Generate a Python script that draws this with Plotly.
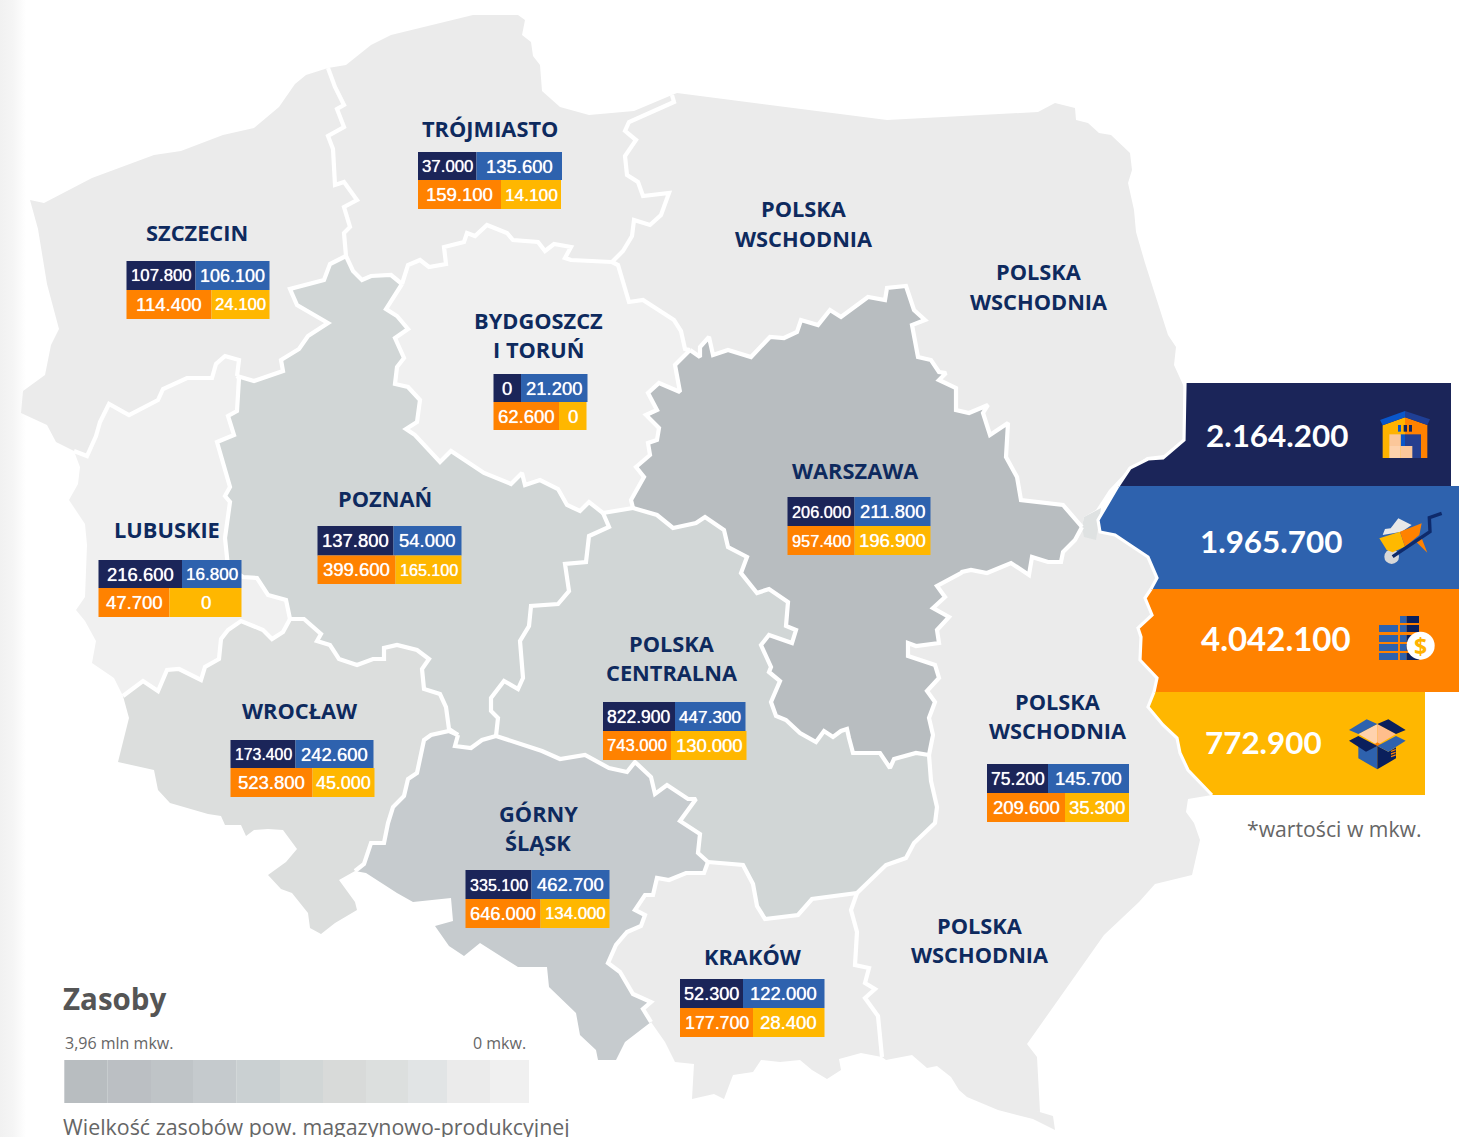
import plotly.graph_objects as go

# ---------- DATA ----------
REGIONS = ["TRÓJMIASTO", "SZCZECIN", "BYDGOSZCZ I TORUŃ", "POZNAŃ", "LUBUSKIE", "WROCŁAW",
           "GÓRNY ŚLĄSK", "WARSZAWA", "POLSKA CENTRALNA", "POLSKA WSCHODNIA", "KRAKÓW"]
VAL_NAVY = ["37.000", "107.800", "0", "137.800", "216.600", "173.400", "335.100", "206.000", "822.900", "75.200", "52.300"]
VAL_BLUE = ["135.600", "106.100", "21.200", "54.000", "16.800", "242.600", "462.700", "211.800", "447.300", "145.700", "122.000"]
VAL_ORANGE = ["159.100", "114.400", "62.600", "399.600", "47.700", "523.800", "646.000", "957.400", "743.000", "209.600", "177.700"]
VAL_YELLOW = ["14.100", "24.100", "0", "165.100", "0", "45.000", "134.000", "196.900", "130.000", "35.300", "28.400"]

TOTALS = ["2.164.200", "1.965.700", "4.042.100", "772.900"]
TOTAL_SIZES = [31.4, 31.4, 33, 31.4]
LEGEND_STEPS = ["#b8bdc0", "#bbbfc3", "#bfc4c7", "#c5cacd", "#cad0d2", "#d1d6d6",
                "#d8dad9", "#dcdfde", "#e1e4e5", "#ebebeb", "#f0f0f0"]

# ---------- LAYOUT OF THE TABLES: x0, top split, top end, bottom split, bottom end, y0, ymid, y1 ----------
TABLE_BOX = [
    (418, 476.5, 562, 501, 561, 152, 180, 209),
    (126.5, 195.5, 269.5, 211.5, 269.5, 261, 290, 319),
    (493.5, 521, 587.5, 559, 586.5, 374, 402, 430),
    (317.5, 393.5, 461.5, 395.5, 461.5, 526, 555.5, 584),
    (98.5, 182, 241.5, 169.5, 241.5, 560, 588, 617),
    (230.5, 295.5, 373.5, 312.5, 374.5, 740, 768, 797),
    (465.5, 531.5, 609.5, 540.5, 609.5, 870, 899, 928),
    (787.5, 854.5, 930.5, 854.5, 930.5, 497, 526, 555),
    (603, 675, 745.5, 671, 746.5, 702, 731, 760),
    (987, 1048, 1129, 1065, 1129, 764, 793, 822),
    (680, 743, 824.5, 753, 824.5, 979, 1008, 1037),
]
LABEL_LINES = [
    ("TRÓJMIASTO", 490, 128), ("SZCZECIN", 197, 232), ("POLSKA", 804, 208), ("WSCHODNIA", 804, 238),
    ("POLSKA", 1039, 271), ("WSCHODNIA", 1039, 301), ("BYDGOSZCZ", 538, 320), ("I TORUŃ", 538, 349),
    ("POZNAŃ", 385, 498), ("LUBUSKIE", 167, 529), ("WARSZAWA", 855, 470), ("POLSKA", 672, 643),
    ("CENTRALNA", 672, 672), ("WROCŁAW", 300, 710), ("GÓRNY", 538, 813), ("ŚLĄSK", 538, 842),
    ("KRAKÓW", 753, 956), ("POLSKA", 1058, 701), ("WSCHODNIA", 1058, 730), ("POLSKA", 980, 925),
    ("WSCHODNIA", 980, 954),
]

# ---------- MAP OUTLINES (shared borders) ----------
COAST_SZ = [(74,451),(56,442),(47,425),(21,413),(23,391),(45,375),(51,345),(59,329),(47,284),(38,229),(30,200),
            (44,203),(92,178),(154,155),(181,151),(223,135),(254,128),(279,107),(295,84),(306,75),(328,68)]
S_TR = [(328,68),(335,87),(344,105),(337,109),(344,127),(328,136),(333,149),(335,185),(344,182),(357,200),
        (344,207),(350,227),(344,233),(346,256)]
SP = [(346,256),(330,264),(324,280),(290,289),(297,305),(328,323),(308,336),(299,349),(281,360),(283,371),
      (254,381),(237,376)]
SL = [(237,376),(239,360),(225,356),(216,364),(212,378),(187,378),(163,389),(158,400),(129,415),(109,404),
      (100,422),(96,436),(87,456),(74,451)]
COAST_TR = [(328,68),(346,65),(371,45),(391,35),(473,15),(518,15),(525,20),(522,35),(531,42),(533,56),(540,65),
            (542,91),(560,107),(589,115),(634,111),(672,95)]
TR_PW = [(672,95),(674,102),(629,122),(625,131),(636,140),(625,156),(627,175),(638,182),(643,196),(669,193),
         (661,215),(650,225),(634,220),(632,236),(623,251),(612,262)]
TR_BY = [(612,262),(571,260),(565,258),(571,247),(554,244),(545,251),(538,242),(513,240),(507,233),(487,225),
         (475,236),(467,233),(464,242),(444,247),(446,264),(429,267),(420,260),(408,265),(402,284)]
TP = [(346,256),(353,271),(362,280),(371,276),(391,275),(402,284)]
BP = [(402,284),(386,309),(397,316),(408,329),(395,338),(404,358),(397,367),(395,384),(408,387),(420,400),
      (417,422),(406,429),(415,435),(440,462),(451,451),(484,473),(511,484),(522,473),(525,485),(540,480),
      (558,489),(567,505),(580,511),(589,502),(603,513)]
BY_PW = [(612,262),(618,265),(629,302),(643,300),(674,320),(681,331),(685,349),(690,350)]
BY_WA = [(690,350),(675,365),(680,392),(659,383),(648,393),(657,410),(646,415),(659,428),(657,440),(648,443),
         (650,455),(636,467),(644,477),(631,500),(633,508)]
BY_PC = [(633,508),(603,513)]
WA_PW1 = [(690,350),(700,357),(700,347),(709,337),(713,355),(728,350),(751,357),(770,337),(784,338),(797,332),
          (801,320),(818,325),(830,310),(841,317),(868,297),(885,300),(887,288),(906,286),(914,310),(925,320),
          (912,325),(918,357),(931,360),(939,372),(946,373),(939,380),(956,388),(956,410),(969,413),(988,405),
          (983,413),(990,435),(1008,423),(1006,457),(1017,477),(1021,500),(1063,505),(1082,527)]
OUT_PW1 = [(672,95),(677,93),(887,120),(1038,112),(1055,103),(1075,108),(1076,120),(1088,123),(1099,133),(1111,135),
           (1130,153),(1132,170),(1128,183),(1134,210),(1136,232),(1145,263),(1168,335),(1176,347),(1174,365),
           (1184,387),(1186,437),(1164,455),(1147,457),(1128,470),(1109,490),(1096,510),(1084,517),(1082,527)]
WA_PW2 = [(1082,527),(1075,540),(1063,552),(1061,562),(1048,562),(1032,557),(1029,575),(1011,563),(987,573),
          (971,570),(962,572),(961,573),(937,586),(945,597),(933,608),(949,617),(937,630),(939,643),(916,646),
          (908,643),(908,656),(935,665),(939,678),(927,691),(935,702),(929,718),(933,735),(929,755)]
WA_PC = [(929,755),(916,753),(894,759),(890,768),(880,753),(853,753),(849,738),(847,729),(841,731),(833,737),
         (824,731),(816,742),(800,733),(786,720),(776,716),(771,702),(780,681),(769,672),(771,667),(761,645),
         (769,635),(792,643),(796,630),(786,626),(788,602),(769,589),(757,593),(741,573),(747,557),(728,547),
         (724,530),(705,517),(696,523),(673,528),(657,515),(633,508)]
PO_PC = [(603,513),(609,527),(589,536),(586,562),(565,564),(569,591),(558,604),(531,606),(529,626),(520,641),
         (523,678),(518,689),(504,681),(491,698),(491,711),(498,718),(496,736)]
PO_GS = [(496,736),(482,740),(471,748),(455,746),(458,735)]
PO_WR = [(458,735),(449,729),(446,707),(440,694),(424,689),(422,669),(429,659),(417,650),(397,645),(384,648),
         (384,659),(373,659),(357,665),(339,659),(330,645),(317,641),(321,634),(304,619),(290,619)]
PO_LU = [(290,619),(286,600),(268,595),(257,578),(243,577),(228,567),(225,538),(230,502),(225,496),(230,487),
         (217,442),(234,435),(228,416),(237,411),(239,378),(237,376)]
WR_LU = [(290,619),(283,632),(272,639),(263,630),(241,621),(228,630),(221,639),(219,659),(205,667),(201,680),
         (179,669),(167,670),(158,691),(143,681),(123,696)]
OUT_LU = [(74,451),(80,467),(78,484),(69,500),(85,524),(87,545),(85,597),(76,610),(85,621),(96,641),(92,663),
          (114,678),(123,696)]
OUT_WR = [(123,696),(129,718),(118,762),(154,770),(158,790),(170,803),(208,814),(221,816),(225,825),(241,825),
          (246,836),(254,830),(268,829),(283,830),(297,849),(286,862),(268,875),(281,889),(292,893),(308,913),
          (310,928),(321,934),(335,923),(357,910),(355,902),(339,880),(355,871)]
WR_GS = [(458,735),(449,731),(431,735),(424,740),(417,773),(408,779),(404,796),(393,807),(388,823),(384,843),
         (371,843),(364,864),(355,871)]
OUT_GS = [(355,871),(366,873),(397,893),(413,902),(451,898),(453,921),(435,926),(449,946),(464,956),(480,943),
          (491,950),(502,957),(518,967),(547,967),(549,987),(576,1013),(580,1035),(596,1050),(598,1060),(616,1060),
          (625,1042),(651,1022)]
GS_PC = [(496,736),(542,751),(560,759),(585,755),(609,768),(627,772),(635,762),(651,777),(655,794),(667,785),
         (688,799),(696,799),(680,821),(700,834),(698,853),(708,862)]
KR_GS = [(651,1022),(643,1009),(651,1002),(633,994),(620,972),(608,963),(616,945),(627,932),(641,926),(645,915),
         (635,910),(645,895),(653,895),(657,878),(669,880),(686,873),(704,873),(708,862)]
KR_PC = [(708,862),(743,865),(753,884),(757,906),(765,919),(798,915),(812,899),(841,895),(857,893)]
PC_PW = [(929,755),(931,781),(937,807),(935,823),(914,843),(906,858),(886,865),(857,893)]
KR_PW = [(857,893),(851,910),(857,932),(855,965),(869,968),(865,983),(875,989),(865,998),(878,1016),(882,1057)]
OUT_KR = [(882,1057),(861,1053),(839,1059),(841,1070),(827,1079),(812,1070),(800,1060),(780,1062),(761,1060),
          (753,1072),(733,1075),(724,1099),(714,1094),(692,1099),(694,1064),(675,1062),(665,1042),(651,1022)]
OUT_PW2 = [(882,1057),(886,1060),(912,1055),(927,1068),(937,1066),(951,1077),(959,1090),(967,1097),(998,1110),
           (1033,1119),(1055,1130),(1053,1116),(1033,1110),(1040,1112),(1037,1057),(1027,1044),(1104,935),(1139,902),
           (1155,884),(1192,875),(1200,840),(1194,823),(1186,812),(1188,799),(1212,795)]

EDGE_NAVY = [(1185,383),(1184,440),(1163,458),(1148,459),(1130,468),(1118,486)]
EDGE_BLUE = [(1118,486),(1098,520),(1100,532),(1115,535),(1133,547),(1148,557),(1157,578),(1151,589)]
EDGE_ORANGE = [(1151,589),(1145,598),(1152,615),(1138,628),(1141,637),(1140,660),(1157,678),(1154,692)]
EDGE_YELLOW = [(1154,692),(1148,707),(1163,725),(1177,738),(1180,753),(1188,770),(1212,795)]
TIP = [(1082,527),(1084,517),(1101,508),(1096,540),(1084,537)]


def rev(a):
    return a[::-1]


POLYS = {
    "szczecin": (COAST_SZ + S_TR + SP + SL, "#ebebeb"),
    "trojmiasto": (COAST_TR + TR_PW + TR_BY + rev(TP) + rev(S_TR), "#ebebeb"),
    "bydgoszcz": (rev(TR_BY) + BY_PW + BY_WA + BY_PC + rev(BP), "#f0f0f0"),
    "wschod1": (OUT_PW1 + rev(WA_PW1) + rev(BY_PW) + rev(TR_PW), "#ebebeb"),
    "warszawa": (WA_PW1 + WA_PW2 + WA_PC + rev(BY_WA), "#b8bdc0"),
    "centralna": (rev(WA_PC) + PC_PW + rev(KR_PC) + rev(GS_PC) + rev(PO_PC) + rev(BY_PC), "#d1d6d6"),
    "poznan": (TP + BP + PO_PC + PO_GS + PO_WR + PO_LU + rev(SP), "#d1d6d6"),
    "lubuskie": (PO_LU + SL + OUT_LU + rev(WR_LU), "#f0f0f0"),
    "wroclaw": (WR_GS + rev(OUT_WR) + rev(WR_LU) + rev(PO_WR), "#dcdedd"),
    "slask": (GS_PC + rev(KR_GS) + rev(OUT_GS) + rev(WR_GS) + rev(PO_GS), "#c6cbce"),
    "krakow": (KR_GS + KR_PC + KR_PW + OUT_KR, "#ebebeb"),
    "wschod2": (WA_PW2 + PC_PW + KR_PW + OUT_PW2 + rev(EDGE_YELLOW) + rev(EDGE_ORANGE) + rev(EDGE_BLUE[1:]), "#ebebeb"),
}
INNER = [S_TR, SP, SL, TR_BY, TP, BP, TR_PW, BY_PW, BY_WA, BY_PC, WA_PW1, WA_PW2, WA_PC, PO_PC, PO_GS, PO_WR,
         PO_LU, WR_LU, WR_GS, GS_PC, KR_GS, KR_PC, PC_PW, KR_PW]
BANDS = [
    (EDGE_NAVY, 1451, "#1b2559"),
    (EDGE_BLUE, 1459, "#2e62ae"),
    (EDGE_ORANGE, 1459, "#ff8200"),
    (EDGE_YELLOW, 1425, "#ffb700"),
]

fig = go.Figure()


def xs(p):
    return [q[0] for q in p]


def ys(p):
    return [q[1] for q in p]


# soft strip on the left of the page
fig.add_trace(go.Scatter(x=[0, 26, 26, 0, 0], y=[0, 0, 1137, 1137, 0], fill="toself", mode="none",
                         fillgradient=dict(type="horizontal", colorscale=[[0, "#f1f1f1"], [0.5, "#f5f5f5"], [1, "#ffffff"]]),
                         hoverinfo="skip", showlegend=False))

for name, (pts, col) in POLYS.items():
    fig.add_trace(go.Scatter(x=xs(pts) + [pts[0][0]], y=ys(pts) + [pts[0][1]], fill="toself", fillcolor=col,
                             mode="none", hoverinfo="skip", showlegend=False, name=name))
fig.add_trace(go.Scatter(x=xs(TIP) + [TIP[0][0]], y=ys(TIP) + [TIP[0][1]], fill="toself", fillcolor="#dfe2e2",
                         mode="none", hoverinfo="skip", showlegend=False))
for seg in INNER:
    fig.add_trace(go.Scatter(x=xs(seg), y=ys(seg), mode="lines", line=dict(color="#ffffff", width=4.2),
                             hoverinfo="skip", showlegend=False))

for edge, xr, col in BANDS:
    poly_pts = edge + [(xr, edge[-1][1]), (xr, edge[0][1])]
    fig.add_trace(go.Scatter(x=xs(poly_pts) + [poly_pts[0][0]], y=ys(poly_pts) + [poly_pts[0][1]], fill="toself",
                             fillcolor=col, mode="none", hoverinfo="skip", showlegend=False))
for seg in (EDGE_NAVY, EDGE_BLUE, EDGE_ORANGE, EDGE_YELLOW):
    fig.add_trace(go.Scatter(x=xs(seg), y=ys(seg), mode="lines", line=dict(color="#ffffff", width=3.2),
                             hoverinfo="skip", showlegend=False))

shapes = []
annots = []


def rect(x0, y0, x1, y1, col):
    shapes.append(dict(type="rect", xref="x", yref="y", x0=x0, y0=y0, x1=x1, y1=y1, fillcolor=col,
                       line=dict(width=0), layer="above"))


def poly(pts, col, ox=0, oy=0):
    d = "M" + " L".join(f"{ox + a / 3:.2f},{oy + b / 3:.2f}" for a, b in pts) + " Z"
    shapes.append(dict(type="path", path=d, xref="x", yref="y", fillcolor=col, line=dict(width=0), layer="above"))


def text(s, x, y, size, col, fam="Open Sans", bold=False, xa="center", shadow=None):
    font = dict(family=fam, size=size, color=col)
    if shadow:
        font["shadow"] = shadow
    annots.append(dict(text=f"<b>{s}</b>" if bold else s, x=x, y=y, xref="x", yref="y", showarrow=False,
                       xanchor=xa, yanchor="middle", font=font))


def cell_size(s, width):
    natural = (len(s) - 1) * 10 + 5 if "." in s else len(s) * 10
    return min(18.5, 18 * 0.88 * width / natural)


# value tables
for box, a, b, c, d in zip(TABLE_BOX, VAL_NAVY, VAL_BLUE, VAL_ORANGE, VAL_YELLOW):
    x0, s1, e1, s2, e2, y0, ym, y1 = box
    rect(x0, y0, s1, ym, "#1b2559")
    rect(s1, y0, e1, ym, "#2e62ae")
    rect(x0, ym, s2, y1, "#ff8200")
    rect(s2, ym, e2, y1, "#ffb700")
    for s, l, r, t, u in ((a, x0, s1, y0, ym), (b, s1, e1, y0, ym), (c, x0, s2, ym, y1), (d, s2, e2, ym, y1)):
        text(s, (l + r) / 2, (t + u) / 2, cell_size(s, r - l), "#ffffff", fam="Liberation Sans",
             shadow="0 0 0.7px #ffffff")

for s, x, y in LABEL_LINES:
    text(s, x, y, 21.8, "#0e2a5e", bold=True)

# totals on the bands
for s, sz, x, y in zip(TOTALS, TOTAL_SIZES, (1277, 1271, 1276, 1263), (435, 541, 638, 742)):
    text(s, x, y, sz, "#ffffff", fam="Lato", bold=True)

# warehouse icon
OX, OY = 1370, 400
poly([(38, 76), (105, 52), (105, 174), (38, 174)], "#ffb300", OX, OY)
poly([(105, 52), (172, 75), (172, 174), (105, 174)], "#ff8200", OX, OY)
poly([(30, 60), (105, 33), (105, 52), (38, 76)], "#0a56c9", OX, OY)
poly([(105, 33), (180, 58), (172, 75), (105, 52)], "#1f3f95", OX, OY)
for l, r, c in ((84, 93, "#0a56c9"), (101, 111, "#10245f"), (117, 126, "#10245f")):
    poly([(l, 75), (r, 75), (r, 95), (l, 95)], c, OX, OY)
poly([(92, 103), (105, 103), (105, 138), (92, 138)], "#0a56c9", OX, OY)
poly([(105, 103), (153, 103), (153, 174), (105, 174)], "#253f8f", OX, OY)
poly([(58, 103), (92, 103), (92, 138), (58, 138)], "#fbc79a", OX, OY)
poly([(58, 138), (92, 138), (92, 174), (58, 174)], "#fdd2ad", OX, OY)
poly([(92, 138), (127, 138), (127, 174), (92, 174)], "#fbc79a", OX, OY)

# wheelbarrow icon
OX, OY = 1370, 505
poly([(38, 90), (45, 72), (62, 70), (85, 40), (125, 60), (95, 80)], "#e8e8e8", OX, OY)
poly([(136, 108), (155, 100), (172, 143)], "#ff8200", OX, OY)
shapes.append(dict(type="circle", xref="x", yref="y", x0=1370 + 43 / 3, x1=1370 + 87 / 3, y0=505 + 133 / 3,
                   y1=505 + 177 / 3, fillcolor="#d8d8d8", line=dict(width=0), layer="above"))
poly([(28, 100), (90, 80), (105, 125), (68, 142), (50, 135)], "#ffb900", OX, OY)
poly([(90, 80), (155, 55), (148, 90), (105, 125)], "#ff8200", OX, OY)
HANDLE = [(68, 155), (180, 80), (178, 38), (215, 25)]
shapes.append(dict(type="path", xref="x", yref="y", layer="above", line=dict(color="#0e2a6b", width=3.4),
                   path="M" + " L".join(f"{OX + a / 3:.2f},{OY + b / 3:.2f}" for a, b in HANDLE)))

# coins icon
OX, OY = 1370, 610
for t, u in ((18, 39), (45, 66), (75, 96), (102, 123), (129, 150)):
    if t > 18:
        poly([(27, t), (84, t), (84, u), (27, u)], "#2e62ae", OX, OY)
    poly([(90, t), (110, t), (110, u), (90, u)], "#2e62ae", OX, OY)
    poly([(110, t), (147, t), (147, u), (110, u)], "#0a1f5c", OX, OY)
shapes.append(dict(type="circle", xref="x", yref="y", x0=1370 + 110 / 3, x1=1370 + 194 / 3, y0=610 + 65 / 3,
                   y1=610 + 149 / 3, fillcolor="#ffffff", line=dict(width=0), layer="above"))
text("$", 1370 + 152 / 3, 610 + 107 / 3, 23, "#ffb300", bold=True)

# box icon
OX, OY = 1340, 710
poly([(55, 72), (112, 42), (112, 105)], "#ffd2ad", OX, OY)
poly([(112, 42), (168, 72), (112, 105)], "#ffbe8c", OX, OY)
poly([(100, 105), (112, 97), (125, 105), (112, 112)], "#ff8200", OX, OY)
poly([(27, 60), (80, 28), (112, 42), (55, 72)], "#2e62ae", OX, OY)
poly([(112, 42), (145, 28), (197, 60), (168, 72)], "#0a1f5c", OX, OY)
poly([(55, 105), (78, 122), (112, 108), (112, 178), (55, 145)], "#2e62ae", OX, OY)
poly([(112, 108), (145, 125), (168, 112), (168, 145), (112, 178)], "#0a1f5c", OX, OY)
poly([(27, 92), (55, 78), (112, 108), (78, 125)], "#0a1f5c", OX, OY)
poly([(112, 108), (168, 78), (197, 92), (145, 125)], "#2e62ae", OX, OY)
for t in (122, 130, 138):
    poly([(153, t), (167, t - 5), (167, t - 1), (153, t + 4)], "#ff8200", OX, OY)

# legend
LEGEND_EDGES = [64.3, 107.7, 151, 193, 236.7, 280, 323, 366, 408, 447, 490, 529]
for i, c in enumerate(LEGEND_STEPS):
    rect(LEGEND_EDGES[i], 1060, LEGEND_EDGES[i + 1], 1103, c)
text("Zasoby", 61, 998, 29.5, "#555555", bold=True, xa="left")
text("3,96 mln mkw.", 62.5, 1042.5, 16, "#666666", xa="left")
text("0 mkw.", 528, 1042.5, 16, "#666666", xa="right")
text("Wielkość zasobów pow. magazynowo-produkcyjnej", 61, 1126.5, 21.4, "#666666", xa="left")
text("*wartości w mkw.", 1245, 828, 21.2, "#666666", xa="left")

fig.update_layout(
    width=1459, height=1137, margin=dict(l=0, r=0, t=0, b=0), paper_bgcolor="#ffffff", plot_bgcolor="#ffffff",
    xaxis=dict(range=[0, 1459], visible=False, fixedrange=True),
    yaxis=dict(range=[1137, 0], visible=False, fixedrange=True),
    showlegend=False, shapes=shapes, annotations=annots,
)
fig.write_html("out.html", config={"displayModeBar": False},
               post_script="document.body.style.margin='0';document.body.style.overflow='hidden';")
